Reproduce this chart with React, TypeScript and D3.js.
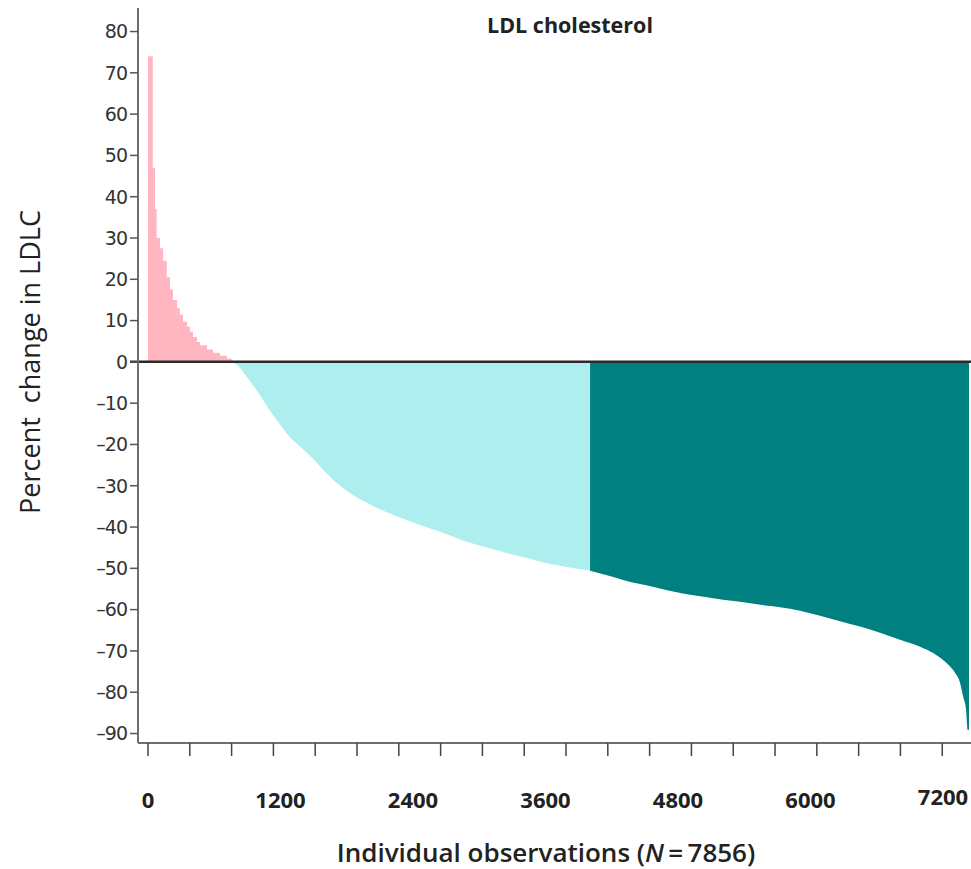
import React from "react";
import * as d3 from "d3";

const N_OBS = 7856;

const increaseRanks = [0, 45, 67, 83, 115, 144, 179, 211, 239, 278, 306, 335, 373, 402, 431, 469, 498, 565, 622, 689, 756];
const increaseValues = [74, 47, 37, 30, 27.5, 24.5, 20.5, 17.5, 15, 13, 11.5, 9.7, 8.5, 7.3, 6, 4.8, 4, 3, 2.2, 1.5, 0.8];

const partialRanks = [800, 870, 928, 1024, 1088, 1148, 1244, 1340, 1435, 1569, 1694, 1818, 1952, 2077, 2201, 2335, 2488, 2651, 2823, 2986, 3148, 3301, 3464, 3627, 3780, 3943, 4105, 4230];
const partialValues = [0, -1.2, -3.1, -6.3, -8.7, -11.1, -14.5, -17.7, -20.1, -23.2, -26.6, -29.6, -32.1, -33.9, -35.5, -36.9, -38.4, -39.9, -41.4, -43.0, -44.3, -45.4, -46.5, -47.5, -48.6, -49.4, -50.1, -50.5];

const responderRanks = [4230, 4392, 4545, 4708, 4871, 5024, 5187, 5349, 5502, 5665, 5828, 5981, 6144, 6239, 6431, 6622, 6813, 7005, 7196, 7388, 7512, 7608, 7675, 7722, 7770, 7799, 7828, 7844, 7856];
const responderValues = [-50.6, -51.7, -52.8, -53.8, -54.7, -55.6, -56.4, -57.0, -57.6, -58.1, -58.7, -59.2, -59.8, -60.3, -61.5, -62.8, -64.1, -65.6, -67.3, -69, -70.5, -72.2, -73.8, -75.3, -77.7, -81, -84.3, -89.1, -89.1];

const yTickValues = [80, 70, 60, 50, 40, 30, 20, 10, 0, -10, -20, -30, -40, -50, -60, -70, -80, -90];
const xMinorStep = 400;
const xTickLabels = [0, 1200, 2400, 3600, 4800, 6000, 7200];

const TITLE = "LDL cholesterol";
const Y_TITLE = "Percent  change in LDLC";

const W = 971;
const H = 869;

export default function App() {
  const x = d3.scaleLinear().domain([0, N_OBS]).range([148, 969]);
  const y = d3.scaleLinear().domain([-92.3, 85.7]).range([743, 8]);
  const xLabel = d3.scaleLinear().domain([0, 7200]).range([148, 943]);

  type P = { r: number; v: number };
  const inc: P[] = increaseRanks.map((r, i) => ({ r, v: increaseValues[i] }));
  inc.push({ r: partialRanks[0], v: increaseValues[increaseValues.length - 1] });
  const part: P[] = partialRanks.map((r, i) => ({ r, v: partialValues[i] }));
  const resp: P[] = responderRanks.map((r, i) => ({ r, v: responderValues[i] }));

  const stepArea = d3
    .area<P>()
    .x((d) => x(d.r))
    .y0(y(0))
    .y1((d) => y(d.v))
    .curve(d3.curveStepAfter);
  const smoothArea = d3
    .area<P>()
    .x((d) => x(d.r))
    .y0(y(0))
    .y1((d) => y(d.v))
    .curve(d3.curveMonotoneX);

  const xMinor = d3.range(0, N_OBS, xMinorStep);
  const axisX = 138;
  const axisY = 743;

  return (
    <svg width={W} height={H} style={{ position: "absolute", left: 0, top: 0, background: "#fff" }}>
      {/* bars */}
      <path d={stepArea(inc) || ""} fill="#FFB6C1" />
      <path d={smoothArea(part) || ""} fill="#AFEEEE" />
      <path d={smoothArea(resp) || ""} fill="#008080" />

      {/* zero line */}
      <line x1={130} x2={W} y1={y(0)} y2={y(0)} stroke="#2a2a2a" strokeWidth={2.5} />

      {/* y axis */}
      <line x1={axisX} x2={axisX} y1={8} y2={axisY} stroke="#6e6e6e" strokeWidth={2} />
      {yTickValues.map((v) => (
        <g key={v}>
          <line x1={130} x2={axisX} y1={y(v)} y2={y(v)} stroke="#555" strokeWidth={1.5} />
          <text
            x={127}
            y={y(v)}
            dy="0.36em"
            textAnchor="end"
            fontFamily="'DejaVu Sans', sans-serif"
            fontSize={19}
            fill="#333"
            style={{ letterSpacing: "-1px" }}
          >
            {v < 0 ? "\u2013" + Math.abs(v) : String(v)}
          </text>
        </g>
      ))}

      {/* x axis */}
      <line x1={axisX} x2={W} y1={axisY} y2={axisY} stroke="#6e6e6e" strokeWidth={2} />
      {xMinor.map((t) => (
        <line key={t} x1={x(t)} x2={x(t)} y1={axisY} y2={756} stroke="#444" strokeWidth={1.5} />
      ))}
      {xTickLabels.map((t) => (
        <text
          key={t}
          x={xLabel(t)}
          y={t === 7200 ? 805 : 808}
          textAnchor="middle"
          fontFamily="'Open Sans', sans-serif"
          fontWeight={700}
          fontSize={22}
          fill="#222"
        >
          {t}
        </text>
      ))}

      {/* titles */}
      <text
        x={570}
        y={33}
        textAnchor="middle"
        fontFamily="'Open Sans', sans-serif"
        fontWeight={700}
        fontSize={21.5}
        fill="#222"
      >
        {TITLE}
      </text>
      <text
        x={546}
        y={862}
        textAnchor="middle"
        fontFamily="'Open Sans', sans-serif"
        fontWeight={600}
        fontSize={26}
        fill="#222"
      >
        Individual observations (<tspan fontStyle="italic">N</tspan>
        {"\u2009=\u20097856)"}
      </text>
      <text
        transform={`translate(40, 362) rotate(-90)`}
        textAnchor="middle"
        fontFamily="'Open Sans', sans-serif"
        fontSize={27}
        fill="#222"
        style={{ whiteSpace: "pre" }}
      >
        {Y_TITLE}
      </text>
    </svg>
  );
}
